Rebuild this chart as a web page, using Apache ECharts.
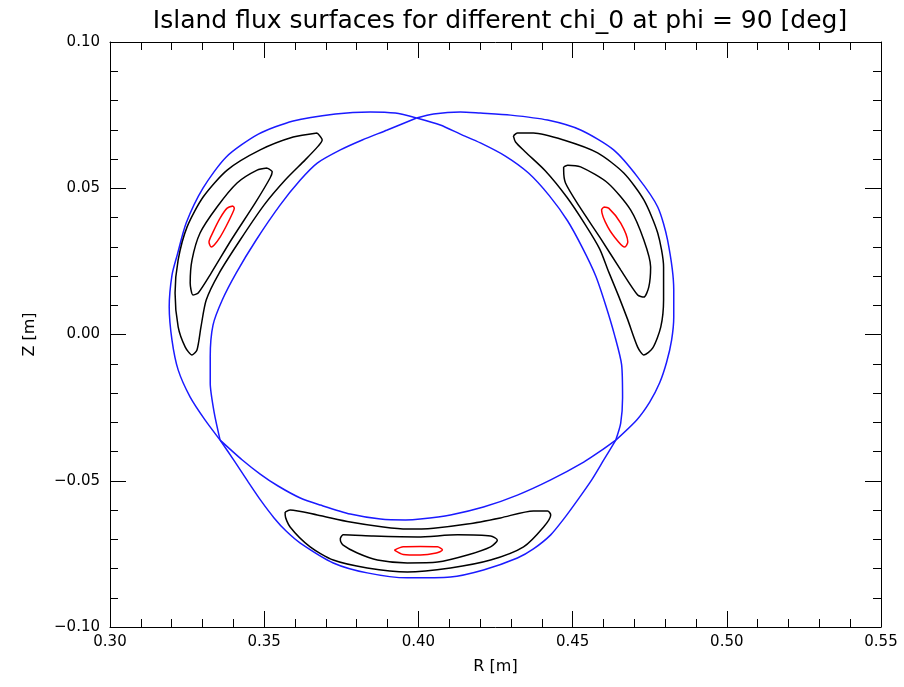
<!DOCTYPE html>
<html>
<head>
<meta charset="utf-8">
<script src="https://cdn.jsdelivr.net/npm/echarts@6/dist/echarts.min.js"></script>
<style>
html,body{margin:0;padding:0;background:#fff;}
#chart{width:904px;height:687px;}
</style>
</head>
<body>
<div id="chart"></div>
<script>
// ---- tick labels ----
const xTicks = [0.30, 0.35, 0.40, 0.45, 0.50, 0.55];
const yTicks = [-0.10, -0.05, 0.00, 0.05, 0.10];

// ---- blue separatrix arcs (R [m], Z [m]) ----
const blueOuterUL = [[0.3357,-0.0361],[0.3308,-0.0292],[0.3260,-0.0214],[0.3221,-0.0121],[0.3201,-0.0019],[0.3192,0.0094],[0.3201,0.0203],[0.3218,0.0272],[0.3247,0.0381],[0.3302,0.0501],[0.3377,0.0607],[0.3481,0.0685],[0.3594,0.0730],[0.3731,0.0754],[0.3844,0.0761],[0.3925,0.0757],[0.3994,0.0740]];
const blueInnerUR = [[0.3994,0.0740],[0.4071,0.0716],[0.4136,0.0685],[0.4201,0.0655],[0.4282,0.0610],[0.4357,0.0552],[0.4425,0.0474],[0.4484,0.0388],[0.4532,0.0296],[0.4575,0.0200],[0.4607,0.0101],[0.4636,-0.0002],[0.4659,-0.0104],[0.4662,-0.0217],[0.4656,-0.0303],[0.4640,-0.0361]];
const blueOuterBottom = [[0.4640,-0.0361],[0.4601,-0.0429],[0.4562,-0.0497],[0.4519,-0.0562],[0.4474,-0.0627],[0.4429,-0.0685],[0.4373,-0.0733],[0.4321,-0.0764],[0.4211,-0.0805],[0.4104,-0.0829],[0.3964,-0.0832],[0.3834,-0.0815],[0.3724,-0.0781],[0.3617,-0.0713],[0.3571,-0.0672],[0.3532,-0.0627],[0.3490,-0.0569],[0.3448,-0.0504],[0.3403,-0.0432],[0.3357,-0.0361]];
const blueInnerUL = [[0.3357,-0.0361],[0.3338,-0.0268],[0.3325,-0.0166],[0.3325,-0.0077],[0.3334,0.0032],[0.3364,0.0118],[0.3409,0.0210],[0.3474,0.0323],[0.3552,0.0443],[0.3617,0.0528],[0.3672,0.0586],[0.3747,0.0631],[0.3818,0.0665],[0.3899,0.0699],[0.3994,0.0740]];
const blueOuterUR = [[0.3994,0.0740],[0.4049,0.0754],[0.4136,0.0761],[0.4201,0.0757],[0.4299,0.0750],[0.4419,0.0733],[0.4526,0.0699],[0.4633,0.0631],[0.4711,0.0538],[0.4776,0.0436],[0.4808,0.0323],[0.4828,0.0152],[0.4828,0.0060],[0.4821,-0.0019],[0.4805,-0.0094],[0.4782,-0.0166],[0.4750,-0.0231],[0.4708,-0.0292],[0.4640,-0.0361]];
const blueInnerBottom = [[0.4640,-0.0361],[0.4591,-0.0398],[0.4536,-0.0436],[0.4429,-0.0497],[0.4321,-0.0549],[0.4211,-0.0590],[0.4104,-0.0617],[0.4006,-0.0631],[0.3958,-0.0634],[0.3877,-0.0631],[0.3779,-0.0614],[0.3682,-0.0583],[0.3617,-0.0559],[0.3545,-0.0518],[0.3487,-0.0477],[0.3429,-0.0429],[0.3357,-0.0361]];

// ---- black island surfaces ----
const blackOuterUL = [[0.3672,0.0689],[0.3594,0.0675],[0.3487,0.0631],[0.3380,0.0562],[0.3302,0.0470],[0.3250,0.0368],[0.3221,0.0255],[0.3211,0.0142],[0.3221,0.0026],[0.3244,-0.0043],[0.3266,-0.0070],[0.3282,-0.0053],[0.3295,0.0026],[0.3312,0.0118],[0.3354,0.0210],[0.3422,0.0323],[0.3500,0.0443],[0.3568,0.0528],[0.3633,0.0597],[0.3675,0.0644],[0.3688,0.0665],[0.3672,0.0689]];
const blackInnerUL = [[0.3510,0.0569],[0.3477,0.0562],[0.3412,0.0518],[0.3347,0.0436],[0.3292,0.0347],[0.3266,0.0255],[0.3260,0.0176],[0.3269,0.0135],[0.3286,0.0142],[0.3328,0.0210],[0.3393,0.0323],[0.3471,0.0450],[0.3519,0.0535],[0.3526,0.0556],[0.3510,0.0569]];
const blackOuterUR = [[0.4308,0.0679],[0.4321,0.0689],[0.4373,0.0689],[0.4471,0.0665],[0.4581,0.0621],[0.4666,0.0552],[0.4731,0.0460],[0.4776,0.0347],[0.4795,0.0231],[0.4795,0.0118],[0.4786,0.0026],[0.4760,-0.0046],[0.4731,-0.0070],[0.4711,-0.0043],[0.4679,0.0050],[0.4649,0.0132],[0.4617,0.0214],[0.4588,0.0292],[0.4542,0.0374],[0.4481,0.0470],[0.4412,0.0559],[0.4347,0.0624],[0.4315,0.0658],[0.4308,0.0679]];
const blackInnerUR = [[0.4471,0.0573],[0.4484,0.0579],[0.4526,0.0573],[0.4614,0.0518],[0.4688,0.0426],[0.4731,0.0323],[0.4753,0.0231],[0.4747,0.0162],[0.4731,0.0128],[0.4711,0.0135],[0.4656,0.0221],[0.4588,0.0333],[0.4523,0.0436],[0.4477,0.0518],[0.4471,0.0562],[0.4471,0.0573]];
const blackOuterBottom = [[0.3568,-0.0607],[0.3584,-0.0600],[0.3672,-0.0617],[0.3779,-0.0641],[0.3886,-0.0658],[0.3964,-0.0665],[0.4049,-0.0662],[0.4159,-0.0648],[0.4266,-0.0627],[0.4373,-0.0603],[0.4419,-0.0603],[0.4429,-0.0617],[0.4406,-0.0658],[0.4341,-0.0726],[0.4234,-0.0771],[0.4104,-0.0798],[0.3964,-0.0812],[0.3834,-0.0798],[0.3724,-0.0771],[0.3649,-0.0726],[0.3584,-0.0658],[0.3568,-0.0617],[0.3568,-0.0607]];
const blackInnerBottom = [[0.3747,-0.0696],[0.3756,-0.0685],[0.3854,-0.0689],[0.3997,-0.0692],[0.4127,-0.0685],[0.4234,-0.0689],[0.4256,-0.0703],[0.4234,-0.0726],[0.4159,-0.0754],[0.4062,-0.0778],[0.3964,-0.0781],[0.3867,-0.0771],[0.3802,-0.0747],[0.3756,-0.0720],[0.3747,-0.0703],[0.3747,-0.0696]];

// ---- red island cores ----
const redUL = [[0.3399,0.0439],[0.3380,0.0432],[0.3357,0.0398],[0.3334,0.0350],[0.3321,0.0316],[0.3328,0.0299],[0.3338,0.0306],[0.3357,0.0333],[0.3377,0.0371],[0.3396,0.0412],[0.3403,0.0432],[0.3399,0.0439]];
const redUR = [[0.4601,0.0436],[0.4594,0.0426],[0.4614,0.0368],[0.4649,0.0316],[0.4669,0.0299],[0.4679,0.0316],[0.4656,0.0381],[0.4617,0.0432],[0.4601,0.0436]];
const redBottom = [[0.3922,-0.0737],[0.3951,-0.0726],[0.4006,-0.0725],[0.4062,-0.0726],[0.4078,-0.0737],[0.4058,-0.0747],[0.4006,-0.0754],[0.3951,-0.0752],[0.3922,-0.0737]];

const blueArcs = [blueOuterUL, blueInnerUR, blueOuterBottom, blueInnerUL, blueOuterUR, blueInnerBottom];
const blackCurves = [blackOuterUL, blackInnerUL, blackOuterUR, blackInnerUR, blackOuterBottom, blackInnerBottom];
const redCurves = [redUL, redUR, redBottom];

const FONT = 'DejaVu Sans';
function fmt(v){
  const s = Math.abs(v).toFixed(2);
  return (v < -1e-9 ? '\u2212' : '') + s;
}
function mk(data, color){
  return {type:'line', data:data, showSymbol:false, symbol:'none', smooth:0.25,
    lineStyle:{color:color, width:1.5}, xAxisIndex:0, yAxisIndex:0, silent:true, animation:false};
}
const tickCommon = {show:true, inside:true, length:16, lineStyle:{color:'#000', width:1}};
const minorCommon = {show:true, splitNumber:5, length:8, lineStyle:{color:'#000', width:1}};

const series = [];
blueArcs.forEach(a => series.push(mk(a, '#1a1aff')));
blackCurves.forEach(a => series.push(mk(a, '#000')));
redCurves.forEach(a => series.push(mk(a, '#ff0000')));

const chart = echarts.init(document.getElementById('chart'), null, {renderer:'canvas'});
chart.setOption({
  backgroundColor:'#fff',
  animation:false,
  title:{text:'Island flux surfaces for different chi_0 at phi = 90 [deg]', left:495, top:4, textAlign:'center',
    textStyle:{fontFamily:FONT, fontSize:25, fontWeight:'normal', color:'#000'}},
  grid:{left:110, right:23, top:42, bottom:60, show:false},
  xAxis:[
    {type:'value', min:xTicks[0], max:xTicks[xTicks.length-1], interval:0.05, position:'bottom',
     name:'R [m]', nameLocation:'middle', nameGap:32,
     nameTextStyle:{fontFamily:FONT, fontSize:16, color:'#000'},
     axisLine:{show:true, onZero:false, lineStyle:{color:'#000', width:1}},
     axisTick:tickCommon, minorTick:minorCommon, splitLine:{show:false},
     axisLabel:{fontFamily:FONT, fontSize:15, color:'#000', margin:8, formatter:fmt}},
    {type:'value', min:xTicks[0], max:xTicks[xTicks.length-1], interval:0.05, position:'top',
     axisLine:{show:true, onZero:false, lineStyle:{color:'#000', width:1}},
     axisTick:tickCommon, minorTick:minorCommon, splitLine:{show:false}, axisLabel:{show:false}}
  ],
  yAxis:[
    {type:'value', min:yTicks[0], max:yTicks[yTicks.length-1], interval:0.05, position:'left',
     name:'Z [m]', nameLocation:'middle', nameGap:72, nameRotate:90,
     nameTextStyle:{fontFamily:FONT, fontSize:16, color:'#000'},
     axisLine:{show:true, onZero:false, lineStyle:{color:'#000', width:1}},
     axisTick:tickCommon, minorTick:minorCommon, splitLine:{show:false},
     axisLabel:{fontFamily:FONT, fontSize:15, color:'#000', margin:10, formatter:fmt}},
    {type:'value', min:yTicks[0], max:yTicks[yTicks.length-1], interval:0.05, position:'right',
     axisLine:{show:true, onZero:false, lineStyle:{color:'#000', width:1}},
     axisTick:tickCommon, minorTick:minorCommon, splitLine:{show:false}, axisLabel:{show:false}}
  ],
  series: series
});
</script>
</body>
</html>
